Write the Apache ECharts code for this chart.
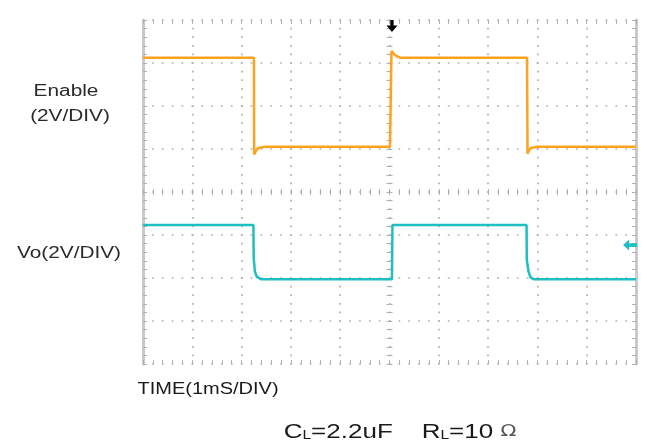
<!DOCTYPE html>
<html>
<head>
<meta charset="utf-8">
<script src="https://cdn.jsdelivr.net/npm/echarts@6/dist/echarts.min.js"></script>
<style>
  html, body { margin: 0; padding: 0; background: #fff; }
  #chart { width: 647px; height: 448px; }
</style>
</head>
<body>
<div id="chart"></div>
<script>
// Scope capture: time in ms relative to the trigger, level in volts relative to screen centre (2 V/div)
const enableTime = [-5, -2.75, -2.745, -2.70, -2.66, -2.52, 0.01, 0.04, 0.08, 0.12, 0.21, 2.79, 2.80, 2.83, 2.87, 3.00, 5];
const enableVolt = [6.25, 6.25, 1.75, 1.95, 2.05, 2.10, 2.10, 6.55, 6.50, 6.35, 6.25, 6.25, 1.78, 1.95, 2.05, 2.10, 2.10];

const voTime = [-5, -2.76, -2.755, -2.73, -2.73, -2.69, -2.60, 0.05, 0.06, 2.78, 2.785, 2.82, 2.86, 2.93, 5];
const voVolt = [-1.53, -1.53, -3.05, -3.10, -3.70, -3.95, -4.06, -4.06, -1.53, -1.53, -3.15, -3.70, -3.97, -4.06, -4.06];

// Trigger position marker (top) and Vo channel reference marker (right edge)
const triggerMark = [0.05, 7.72];
const voRefMark = [4.88, -2.47];

const zip = (xs, ys) => xs.map((x, i) => [x, ys[i]]);

const gridGrey = '#b0b0b0';
const tickStyle = { color: gridGrey, width: 1 };
const textFont = '"Liberation Sans", Arial, sans-serif';

function xScale(extra) {
  return Object.assign({
    type: 'value', min: -5, max: 5, interval: 1,
    axisLabel: { show: false },
    splitLine: { show: false },
    axisTick: { show: true, inside: true, length: 4, lineStyle: tickStyle },
    minorTick: { show: true, splitNumber: 5, length: 4, lineStyle: tickStyle },
    axisLine: { show: false, onZero: false }
  }, extra);
}
function yScale(extra) {
  return Object.assign({
    type: 'value', min: -8, max: 8, interval: 2,
    axisLabel: { show: false },
    splitLine: { show: false },
    axisTick: { show: true, inside: true, length: 4, lineStyle: tickStyle },
    minorTick: { show: true, splitNumber: 5, length: 4, lineStyle: tickStyle },
    axisLine: { show: false, onZero: false }
  }, extra);
}

const chart = echarts.init(document.getElementById('chart'), null, { renderer: 'canvas' });

chart.setOption({
  backgroundColor: '#ffffff',
  animation: false,
  grid: { left: 143, right: 11, top: 20, bottom: 84 },
  xAxis: [
    xScale({ position: 'bottom',
      splitLine: { show: true, lineStyle: { color: gridGrey, width: 1.7, type: [1.7, 6.9], dashOffset: 0.85 } } }),
    xScale({ position: 'top' }),
    xScale({ position: 'bottom', axisLine: { show: true, onZero: true, onZeroAxisIndex: 0, lineStyle: { opacity: 0 } },
      axisTick: { show: true, inside: true, length: 3, lineStyle: tickStyle },
      minorTick: { show: true, splitNumber: 5, length: 3, lineStyle: tickStyle } }),
    xScale({ position: 'bottom', axisLine: { show: true, onZero: true, onZeroAxisIndex: 0, lineStyle: { opacity: 0 } },
      axisTick: { show: true, inside: false, length: 3, lineStyle: tickStyle },
      minorTick: { show: true, splitNumber: 5, length: 3, lineStyle: tickStyle } })
  ],
  yAxis: [
    yScale({ position: 'left',
      axisLine: { show: true, onZero: false, lineStyle: { color: '#cacaca', width: 3 } },
      splitLine: { show: true, lineStyle: { color: gridGrey, width: 1.7, type: [1.7, 8.16], dashOffset: 0.85 } } }),
    yScale({ position: 'right',
      axisLine: { show: true, onZero: false, lineStyle: { color: '#cacaca', width: 3 } } }),
    yScale({ position: 'left', axisLine: { show: true, onZero: true, onZeroAxisIndex: 0, lineStyle: { opacity: 0 } },
      axisTick: { show: true, inside: true, length: 3, lineStyle: tickStyle },
      minorTick: { show: true, splitNumber: 5, length: 3, lineStyle: tickStyle } }),
    yScale({ position: 'left', axisLine: { show: true, onZero: true, onZeroAxisIndex: 0, lineStyle: { opacity: 0 } },
      axisTick: { show: true, inside: false, length: 3, lineStyle: tickStyle },
      minorTick: { show: true, splitNumber: 5, length: 3, lineStyle: tickStyle } })
  ],
  series: [
    {
      name: 'Enable', type: 'line', xAxisIndex: 0, yAxisIndex: 0,
      data: zip(enableTime, enableVolt),
      showSymbol: false, symbol: 'none',
      lineStyle: { color: '#ffa21c', width: 2.5 },
      z: 3,
      markPoint: {
        symbol: 'path://M3.5,0 L6.5,0 L6.5,4.5 L10,4.5 L5,10 L0,4.5 L3.5,4.5 Z',
        symbolSize: [11, 12],
        itemStyle: { color: '#000000' },
        label: { show: false },
        data: [{ coord: triggerMark }]
      }
    },
    {
      name: 'Vo', type: 'line', xAxisIndex: 0, yAxisIndex: 0,
      data: zip(voTime, voVolt),
      showSymbol: false, symbol: 'none',
      lineStyle: { color: '#1dbfc2', width: 2.5 },
      z: 3,
      markPoint: {
        symbol: 'path://M0,5 L6,0 L6,3.2 L14,3.2 L14,6.8 L6,6.8 L6,10 Z',
        symbolSize: [14, 11],
        itemStyle: { color: '#1dbfc2' },
        label: { show: false },
        data: [{ coord: voRefMark }]
      }
    }
  ],
  graphic: [
    { type: 'text', x: 66, y: 92, scaleX: 1.3,
      style: { text: 'Enable', font: '16px ' + textFont, fill: '#2a2a2a', align: 'center', verticalAlign: 'middle' } },
    { type: 'text', x: 70, y: 117, scaleX: 1.3,
      style: { text: '(2V/DIV)', font: '16px ' + textFont, fill: '#2a2a2a', align: 'center', verticalAlign: 'middle' } },
    { type: 'text', x: 69, y: 254, scaleX: 1.3,
      style: { text: 'Vo(2V/DIV)', font: '16px ' + textFont, fill: '#2a2a2a', align: 'center', verticalAlign: 'middle' } },
    { type: 'text', x: 208, y: 390, scaleX: 1.25,
      style: { text: 'TIME(1mS/DIV)', font: '16px ' + textFont, fill: '#1a1a1a', align: 'center', verticalAlign: 'middle' } },
    { type: 'text', x: 400, y: 432, scaleX: 1.3,
      style: {
        text: 'C{sub|L}=2.2uF    R{sub|L}=10 {om|Ω}',
        font: '20px ' + textFont, fill: '#1a1a1a', align: 'center', verticalAlign: 'middle',
        rich: {
          sub: { fontSize: 12, fontFamily: textFont, fill: '#1a1a1a', verticalAlign: 'bottom', padding: [8, 0, 0, 0] },
          om: { fontSize: 16, fontFamily: '"DejaVu Sans", sans-serif', fill: '#555' }
        }
      } }
  ]
});
</script>
</body>
</html>
